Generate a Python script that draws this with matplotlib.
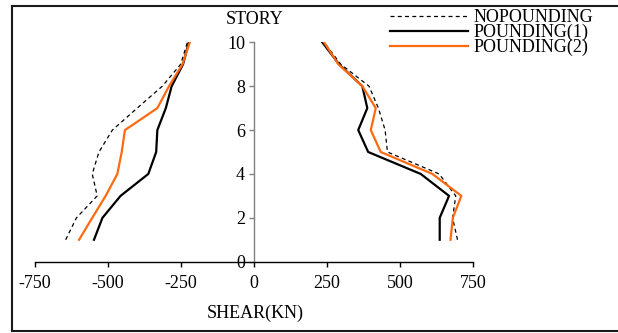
import matplotlib
matplotlib.use("Agg")
import matplotlib.pyplot as plt
from matplotlib.lines import Line2D

plt.rcParams['font.family'] = ['Liberation Serif', 'DejaVu Serif']
plt.rcParams['axes.unicode_minus'] = False

stories = [1, 2, 3, 4, 5, 6, 7, 8, 9, 10]
labels = ["NOPOUNDING", "POUNDING(1)", "POUNDING(2)"]

nopounding_neg = [-645, -608, -537, -554, -531, -485, -400, -314, -251, -228]
pounding1_neg = [-548, -519, -457, -362, -335, -331, -302, -282, -243, -223]
pounding2_neg = [-599, -554, -508, -468, -453, -442, -331, -291, -245, -220]

nopounding_pos = [697, 680, 691, 634, 457, 449, 426, 394, 297, 240]
pounding1_pos = [636, 636, 668, 571, 391, 357, 388, 371, 291, 234]
pounding2_pos = [673, 681, 710, 611, 434, 400, 417, 371, 289, 240]

xticks = [-750, -500, -250, 0, 250, 500, 750]
yticks = [0, 2, 4, 6, 8, 10]

W, H = 618, 333
fig = plt.figure(figsize=(W / 100, H / 100), dpi=100)
ax = fig.add_axes([35 / W, (H - 261.7) / H, 438 / W, 219.4 / H])

fs = 13
dash = (0, (3.2, 2.6))
ax.plot(nopounding_neg, stories, color='black', lw=0.9, linestyle=dash, label=labels[0])
ax.plot(pounding1_neg, stories, color='black', lw=1.6, label=labels[1])
ax.plot(pounding2_neg, stories, color='#FF6A10', lw=1.6, label=labels[2])
ax.plot(nopounding_pos, stories, color='black', lw=0.9, linestyle=dash)
ax.plot(pounding1_pos, stories, color='black', lw=1.6)
ax.plot(pounding2_pos, stories, color='#FF6A10', lw=1.6)

ax.set_xlim(-750, 750)
ax.set_ylim(0, 10)
ax.set_xticks(xticks)
ax.set_xticklabels([str(v) for v in xticks])
ax.set_yticks(yticks)
ax.set_yticklabels([str(v) for v in yticks])

ax.spines['left'].set_position(('data', 0))
ax.spines['left'].set_color('#808080')
ax.spines['left'].set_linewidth(1.0)
ax.spines['bottom'].set_position(('data', 0))
ax.spines['bottom'].set_color('black')
ax.spines['bottom'].set_linewidth(1.0)
ax.spines['top'].set_visible(False)
ax.spines['right'].set_visible(False)
ax.patch.set_alpha(0)
ax.tick_params(axis='x', direction='out', length=3.5, width=1.0, color='black', pad=6, labelsize=fs)
ax.tick_params(axis='y', direction='out', length=3.5, width=1.0, color='#808080', pad=3, labelsize=fs)

fig.text(255 / W, 1 - 313 / H, "SHEAR(KN)", ha='center', va='center', fontsize=fs)
fig.text(255 / W, 1 - 20 / H, "STORY", ha='center', va='center', fontsize=fs)

leg = ax.legend(loc='upper left', bbox_to_anchor=(390 / W, 1 - 9 / H),
                bbox_transform=fig.transFigure, frameon=False, fontsize=fs,
                handlelength=4.3, handletextpad=0.35, labelspacing=-0.13,
                borderpad=0, borderaxespad=0)

# figure border
bc = '#1a1a1a'
fig.add_artist(Line2D([12 / W, 12 / W], [1 - 6 / H, 1 - 331 / H], transform=fig.transFigure, color=bc, lw=1.5))
fig.add_artist(Line2D([12 / W, 1.0], [1 - 6 / H, 1 - 6 / H], transform=fig.transFigure, color=bc, lw=1.5))
fig.add_artist(Line2D([12 / W, 1.0], [1 - 331 / H, 1 - 331 / H], transform=fig.transFigure, color=bc, lw=1.5))

fig.savefig("out.png", dpi=100)
